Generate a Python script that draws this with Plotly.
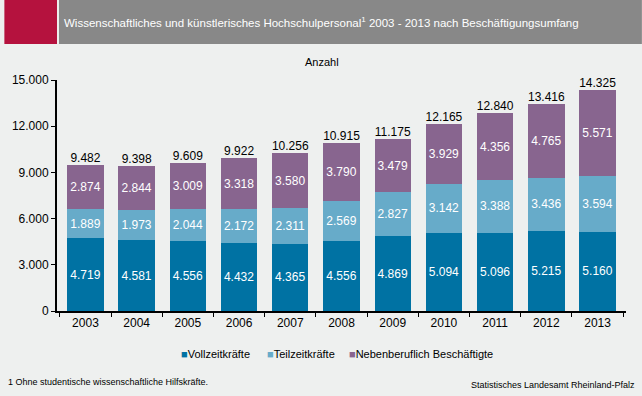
import plotly.graph_objects as go

years = ["2003", "2004", "2005", "2006", "2007", "2008", "2009", "2010", "2011", "2012", "2013"]
vollzeit = [4719, 4581, 4556, 4432, 4365, 4556, 4869, 5094, 5096, 5215, 5160]
teilzeit = [1889, 1973, 2044, 2172, 2311, 2569, 2827, 3142, 3388, 3436, 3594]
neben = [2874, 2844, 3009, 3318, 3580, 3790, 3479, 3929, 4356, 4765, 5571]
totals = [9482, 9398, 9609, 9922, 10256, 10915, 11175, 12165, 12840, 13416, 14325]
y_ticks = [0, 3000, 6000, 9000, 12000, 15000]
series_names = ["Vollzeitkräfte", "Teilzeitkräfte", "Nebenberuflich Beschäftigte"]
series_colors = ["#0072A3", "#67ABC9", "#88658F"]

BG = "#EEF0EF"
FONT = "Liberation Sans, Arial, sans-serif"
PW, PH = 573, 231  # plot area size in px
L, T = 53, 80

def px(x):
    return (x - L) / PW

def py(y):
    return (T + PH - y) / PH

fig = go.Figure()
for name, vals, col in zip(series_names, [vollzeit, teilzeit, neben], series_colors):
    fig.add_trace(go.Bar(
        x=years, y=vals, name=name, marker=dict(color=col, line=dict(width=0)),
        texttemplate="%{y:,}", textposition="inside", insidetextanchor="middle",
        textfont=dict(color="white", size=12, family=FONT), constraintext="none",
        hoverinfo="skip", showlegend=False))

fig.add_trace(go.Scatter(
    x=years, y=totals, mode="text", text=[f"{v:,}".replace(",", ".") for v in totals],
    textposition="top center", cliponaxis=False,
    textfont=dict(color="black", size=12, family=FONT), showlegend=False, hoverinfo="skip"))

legend_x = [176, 262, 345]
annotations = [
    dict(text="Wissenschaftliches und künstlerisches Hochschulpersonal<sup>1</sup> 2003 - 2013 nach Beschäftigungsumfang",
         xref="paper", yref="paper", x=px(58), y=py(22), xanchor="left", yanchor="middle",
         showarrow=False, font=dict(color="white", size=11.5, family=FONT)),
    dict(text="Anzahl", xref="paper", yref="paper", x=px(320), y=py(62),
         xanchor="center", yanchor="middle", showarrow=False, font=dict(size=11, family=FONT)),
    dict(text="1 Ohne studentische wissenschaftliche Hilfskräfte.", xref="paper", yref="paper",
         x=px(2), y=py(382), xanchor="left", yanchor="middle", showarrow=False,
         font=dict(size=9, family=FONT)),
    dict(text="Statistisches Landesamt Rheinland-Pfalz", xref="paper", yref="paper",
         x=px(637), y=py(385), xanchor="right", yanchor="middle", showarrow=False,
         font=dict(size=9, family=FONT)),
]
for name, col, lx in zip(series_names, series_colors, legend_x):
    annotations.append(dict(
        text=f"<span style='color:{col}'>■</span>{name}", xref="paper", yref="paper",
        x=px(lx), y=py(354), xanchor="left", yanchor="middle", showarrow=False,
        font=dict(size=11, family=FONT)))

fig.update_layout(
    width=642, height=396, barmode="stack", bargap=0.29,
    paper_bgcolor=BG, plot_bgcolor=BG, separators=",.",
    margin=dict(l=L, r=642 - L - PW, t=T, b=396 - T - PH, pad=0),
    font=dict(family=FONT, size=12, color="black"),
    showlegend=False,
    xaxis=dict(type="category", showline=True, linecolor="black", linewidth=2,
               ticks="outside", tickson="boundaries", ticklen=4, tickcolor="black",
               tickwidth=1, showgrid=False, tickfont=dict(size=12, family=FONT)),
    yaxis=dict(range=[0, 15000], tickvals=y_ticks, tickformat=",", showline=True,
               linecolor="black", linewidth=2, ticks="outside", ticklen=4,
               tickcolor="black", showgrid=False, zeroline=False,
               tickfont=dict(size=12, family=FONT)),
    shapes=[
        dict(type="rect", xref="paper", yref="paper", x0=px(0), x1=px(53), y0=py(44), y1=py(0),
             fillcolor="#B5123E", line=dict(width=0), layer="above"),
        dict(type="rect", xref="paper", yref="paper", x0=px(55), x1=px(642), y0=py(44), y1=py(0),
             fillcolor="#888888", line=dict(width=0), layer="above"),
    ],
    annotations=annotations,
)

fig.write_html("out.html", config={"displayModeBar": False},
               post_script="document.body.style.margin='0';document.body.style.padding='0';")
